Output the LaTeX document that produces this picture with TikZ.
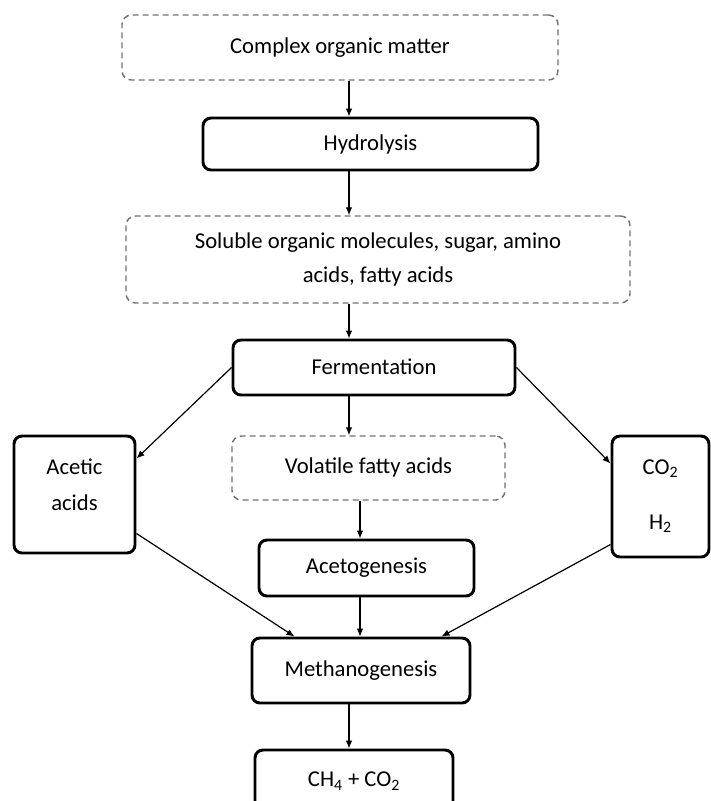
\documentclass[tikz,border=0pt]{standalone}
\usepackage{fontspec}
\setmainfont{Carlito}
\usepackage{xcolor}
\usepackage{tikz}
\usetikzlibrary{arrows.meta}
\usetikzlibrary{positioning}
\newcommand{\pxu}{0.75pt}

\begin{document}
\begin{tikzpicture}[x=\pxu, y=-\pxu,
  stage/.style={draw=black, line width=2.2pt, rounded corners=6pt, fill=white, align=center, inner sep=0pt, font=\fontsize{17}{26}\selectfont},
  matter/.style={draw=black!55, line width=1.1pt, dash pattern=on 4.5pt off 3pt, rounded corners=7pt, fill=white, align=center, inner sep=0pt, font=\fontsize{17}{25.5}\selectfont},
  flow/.style={-{Latex[length=6pt,width=5pt]}, line width=0.9pt}]
\clip (0,0) rectangle (711,801);
% main chain
\node (complex) [matter, minimum width=436*\pxu, minimum height=65*\pxu] at (340,47.5) {\raisebox{3pt}{Complex organic matter}};
\node (hydrolysis) [stage, minimum width=335*\pxu, minimum height=52*\pxu] at (370.5,144) {Hydrolysis};
\node (soluble) [matter, minimum width=504*\pxu, minimum height=87*\pxu] at (378,259.5) {Soluble organic molecules, sugar, amino\\acids, fatty acids};
\node (fermentation) [stage, minimum width=282*\pxu, minimum height=55*\pxu] at (374,367.5) {\raisebox{1pt}{Fermentation}};
% side products
\node (acetic) [stage, minimum width=121*\pxu, minimum height=117*\pxu,
  label={[align=center, font=\fontsize{17}{27}\selectfont, yshift=7pt]center:Acetic\\acids}] at (74.5,494.5) {};
\node (volatile) [matter, minimum width=273*\pxu, minimum height=64*\pxu] at (368.5,468) {\raisebox{3pt}{Volatile fatty acids}};
\node (gases) [stage, minimum width=97*\pxu, minimum height=121*\pxu] at (660.5,496.5) {\raisebox{3pt}{\shortstack{CO\textsubscript{2}\\[25pt]H\textsubscript{2}}}};
% last steps
\node (acetogenesis) [stage, minimum width=215*\pxu, minimum height=56*\pxu] at (366.5,568) {\raisebox{2pt}{Acetogenesis}};
\node (methanogenesis) [stage, minimum width=218*\pxu, minimum height=65*\pxu] at (361,670.5) {\raisebox{2pt}{Methanogenesis}};
\node (products) [stage, minimum width=198*\pxu, minimum height=62*\pxu] at (354,781) {\raisebox{2pt}{CH\textsubscript{4} + CO\textsubscript{2}}};
% arrows
\coordinate (spine) at (349,0);
\coordinate (spineb) at (360,0);
\draw [flow] (complex.south -| spine) -- (hydrolysis.north -| spine);
\draw [flow] (hydrolysis.south -| spine) -- (soluble.north -| spine);
\draw [flow] (soluble.south -| spine) -- (fermentation.north -| spine);
\draw [flow] (fermentation.south -| spine) -- (volatile.north -| spine);
\draw [flow] (fermentation.west) -- ([yshift=-18pt]acetic.north east);
\draw [flow] (fermentation.east) -- ([yshift=-21.75pt]gases.north west);
\draw [flow] (volatile.south -| spineb) -- (acetogenesis.north -| spineb);
\draw [flow] (acetogenesis.south -| spineb) -- (methanogenesis.north -| spineb);
\draw [flow] ([yshift=15.75pt]acetic.south east) -- ([xshift=33pt]methanogenesis.north west);
\draw [flow] ([yshift=10.5pt]gases.south west) -- ([xshift=-22.5pt]methanogenesis.north east);
\draw [flow] (methanogenesis.south -| spine) -- (products.north -| spine);
\end{tikzpicture}
\end{document}
